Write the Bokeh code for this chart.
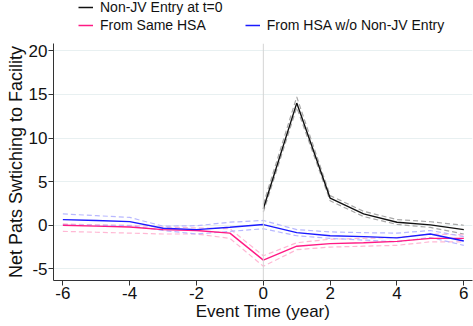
from bokeh.plotting import figure
from bokeh.layouts import column
from bokeh.models import Legend, LegendItem, Span, Range1d, FixedTicker
from bokeh.embed import file_html
from bokeh.resources import INLINE

# Data
t_entry = [0, 1, 2, 3, 4, 5, 6]
entry = [1.9, 14.0, 3.1, 1.3, 0.35, 0.05, -0.5]
entry_hi = [2.4, 14.7, 3.4, 1.6, 0.65, 0.4, 0.0]
entry_lo = [1.5, 13.5, 2.8, 1.0, 0.1, -0.25, -1.0]

t_all = [-6, -5, -4, -3, -2, -1, 0, 1, 2, 3, 4, 5, 6]
same = [0.0, -0.1, -0.2, -0.5, -0.6, -0.9, -4.0, -2.4, -2.1, -2.0, -1.85, -1.5, -1.5]
same_hi = [0.15, 0.05, 0.0, -0.2, -0.3, -0.4, -3.5, -2.0, -1.6, -1.5, -1.4, -1.0, -1.1]
same_lo = [-0.7, -0.8, -0.9, -1.0, -1.0, -1.5, -4.7, -2.8, -2.5, -2.4, -2.3, -1.9, -1.9]

other = [0.65, 0.55, 0.42, -0.34, -0.5, -0.23, 0.08, -0.84, -1.2, -1.3, -1.45, -1.0, -1.8]
other_hi = [1.3, 1.1, 0.9, -0.1, -0.05, 0.35, 0.55, -0.5, -0.76, -0.85, -0.9, -0.6, -1.3]
other_lo = [0.05, 0.0, -0.05, -0.6, -1.0, -0.7, -0.4, -1.2, -1.5, -1.7, -1.9, -1.4, -2.3]

x_ticks = [-6, -4, -2, 0, 2, 4, 6]
y_ticks = [-5, 0, 5, 10, 15, 20]
labels = ["Non-JV Entry at t=0", "From Same HSA", "From HSA w/o Non-JV Entry"]

BLACK = "#111111"
PINK = "#ff1a84"
BLUE = "#1a1aff"
FONT = "Liberation Sans"

LEFT = 53
FW, FH = 419, 237
LH, TOP = 36, 7

# ---------- legend strip (series drawn off-view, only their legend glyphs show) ----------
lf = figure(frame_width=FW, frame_height=LH, output_backend="svg", toolbar_location=None,
            x_axis_type=None, y_axis_type=None,
            x_range=Range1d(100, 101), y_range=Range1d(100, 101),
            min_border_left=LEFT, min_border_right=1, min_border_top=0, min_border_bottom=0)
lf.grid.visible = False
lf.outline_line_color = None
g_entry = lf.line(t_entry, entry, line_color=BLACK, line_width=1.5)
g_same = lf.line(t_all, same, line_color=PINK, line_width=1.5)
g_other = lf.line(t_all, other, line_color=BLUE, line_width=1.5)


def style_legend(lg):
    lg.label_text_font = FONT
    lg.label_text_font_size = "14px"
    lg.label_text_color = "#111111"
    lg.glyph_width = 15
    lg.glyph_height = 14
    lg.label_height = 14
    lg.label_standoff = 7
    lg.padding = 0
    lg.margin = 0
    lg.border_line_color = None
    lg.background_fill_alpha = 0


legA = Legend(items=[LegendItem(label=labels[0], renderers=[g_entry])],
              location=(25, 21), orientation="horizontal")
style_legend(legA)
legB = Legend(items=[LegendItem(label=labels[1], renderers=[g_same]),
                     LegendItem(label=labels[2], renderers=[g_other])],
              location=(25, 3), orientation="horizontal")
style_legend(legB)
legB.spacing = 39
lf.add_layout(legA, "center")
lf.add_layout(legB, "center")

# ---------- main plot ----------
p = figure(frame_width=FW, frame_height=FH, output_backend="svg", toolbar_location=None,
           x_range=Range1d(-6.28, 6.26), y_range=Range1d(-6.33, 20.83),
           min_border_left=LEFT, min_border_right=1, min_border_top=TOP, min_border_bottom=0)
p.outline_line_color = None
p.background_fill_color = "white"

p.xgrid.grid_line_color = None
p.ygrid.grid_line_color = "#e8f0f1"
p.ygrid.grid_line_width = 1
p.ygrid.ticker = FixedTicker(ticks=y_ticks)

p.add_layout(Span(location=0, dimension="height", line_color="#d4d4d4", line_width=1))

dash = "5 3"
p.line(t_entry, entry_hi, line_color="#a8a8a8", line_dash=dash, line_width=1.2)
p.line(t_entry, entry_lo, line_color="#a8a8a8", line_dash=dash, line_width=1.2)
p.line(t_all, same_hi, line_color="#ffb8d4", line_dash=dash, line_width=1.2)
p.line(t_all, same_lo, line_color="#ffb8d4", line_dash=dash, line_width=1.2)
p.line(t_all, other_hi, line_color="#b8b8ff", line_dash=dash, line_width=1.2)
p.line(t_all, other_lo, line_color="#b8b8ff", line_dash=dash, line_width=1.2)

p.line(t_all, same, line_color=PINK, line_width=1.4)
p.line(t_all, other, line_color=BLUE, line_width=1.4)
p.line(t_entry, entry, line_color=BLACK, line_width=1.4)

for ax in (p.xaxis[0], p.yaxis[0]):
    ax.axis_line_color = "#333333"
    ax.major_tick_line_color = "#333333"
    ax.major_tick_out = 5
    ax.major_tick_in = 0
    ax.minor_tick_line_color = None
    ax.major_label_text_font = FONT
    ax.major_label_text_font_size = "17px"
    ax.major_label_text_color = "#111111"
    ax.axis_label_text_font = FONT
    ax.axis_label_text_font_style = "normal"
    ax.axis_label_text_color = "#111111"
    ax.major_label_standoff = 1
    ax.axis_label_standoff = 0

p.xaxis.axis_label_text_font_size = "17px"
p.yaxis.axis_label_text_font_size = "18px"
p.xaxis.ticker = FixedTicker(ticks=x_ticks)
p.yaxis.ticker = FixedTicker(ticks=y_ticks)
p.xaxis.major_label_overrides = {v: str(v) for v in x_ticks}
p.yaxis.major_label_overrides = {v: str(v) for v in y_ticks}
p.xaxis.axis_label = "Event Time (year)"
p.yaxis.axis_label = "Net Pats Swtiching to Facility"
p.yaxis.major_label_orientation = "horizontal"

layout = column(lf, p, spacing=0)
open("out.html", "w").write(file_html(layout, INLINE))
